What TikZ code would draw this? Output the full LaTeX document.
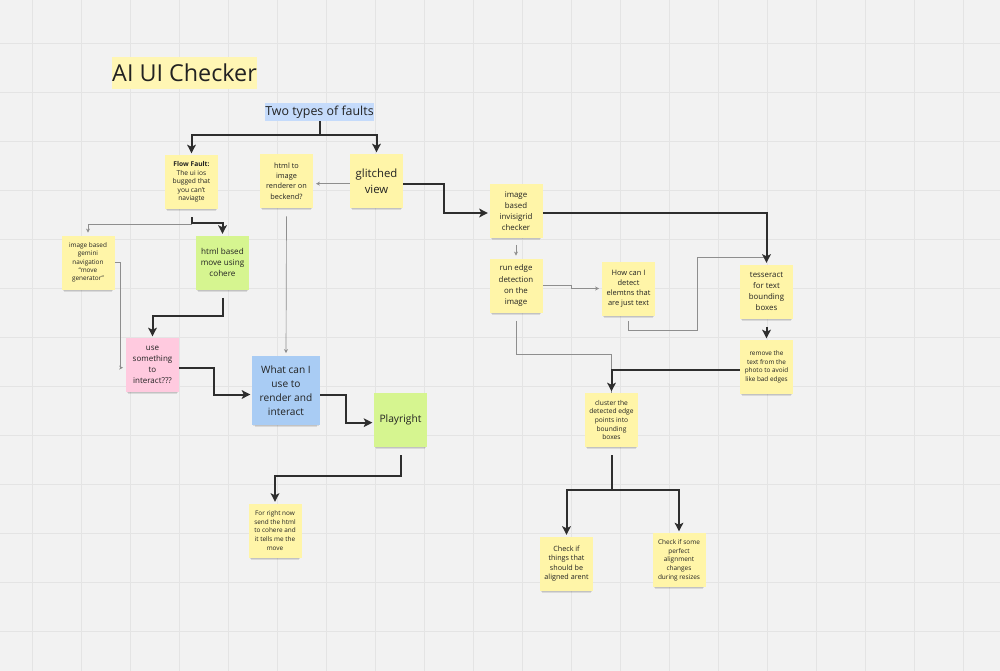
\documentclass[tikz,border=0pt]{standalone}
\usepackage{fontspec}
\setmainfont{Open Sans}
\usetikzlibrary{arrows.meta,shadows,calc}
\definecolor{bgc}{HTML}{F2F2F2}
\definecolor{gridc}{HTML}{E4E4E4}
\definecolor{stY}{HTML}{FFF5A8}
\definecolor{stG}{HTML}{D6F590}
\definecolor{stP}{HTML}{FFCADF}
\definecolor{stB}{HTML}{A9CCF4}
\definecolor{hlY}{HTML}{FFF6B4}
\definecolor{hlB}{HTML}{C5DBFB}
\definecolor{txt}{HTML}{222222}
\definecolor{lnk}{HTML}{2E2E2E}
\definecolor{thinc}{HTML}{8E8E8E}
\newcommand\myfs[2]{\fontsize{#1}{#2}\selectfont}
\tikzset{
  gridline/.style={draw=gridc, line width=0.6pt},
  shad/.style={
    general shadow={fill=black, opacity=0.10, shadow yshift=-2pt, shadow scale=0.96},
    general shadow={fill=black, opacity=0.10, shadow yshift=-3.5pt, shadow scale=0.92}},
  sticky/.style={shad, fill=stY, draw=none, minimum width=39.75pt, minimum height=40.5pt,
    inner sep=1pt, align=center, text=txt},
  hl/.style={inner sep=0pt, text=txt},
  thk/.style={draw=lnk, line width=1.5pt, -{Stealth[length=6.5pt,width=6.5pt,inset=1.5pt]}, shorten >=1pt},
  thn/.style={draw=thinc, line width=0.5pt, -{Stealth[length=3pt,width=3pt]}, shorten >=2pt},
  thnplain/.style={draw=thinc, line width=0.5pt}
}
\begin{document}
\begin{tikzpicture}[x=0.75pt,y=-0.75pt]
\fill[bgc] (0,0) rectangle (1000,671);
\useasboundingbox (0,0) rectangle (1000,671);
\foreach \i in {0,...,19} \draw[gridline] (32+49*\i,0) -- (32+49*\i,671);
\foreach \j in {0,...,12} \draw[gridline] (0,43+49*\j) -- (1000,43+49*\j);

% titles
\node[hl, fill=hlY, minimum width=105.75pt, minimum height=24pt, font=\myfs{17.5}{20}] (title) at (184.5,73) {AI UI Checker};
\node[hl, fill=hlB, minimum width=81.75pt, minimum height=13.5pt, font=\myfs{9.3}{11}] (two) at (319.5,112) {Two types of faults};

% stickies
\node[sticky, font=\myfs{5}{6.4}] (flow) at (191.5,182) {\textbf{Flow Fault:}\\The ui ios\\bugged that\\you can't\\naviagte};
\node[sticky, font=\myfs{5.5}{7.7}] (html2img) at (286.5,181) {html to\\image\\renderer on\\beckend?};
\node[sticky, font=\myfs{8.5}{12}] (glitch) at (376.5,181) {glitched\\view};
\node[sticky, font=\myfs{5.9}{8.3}] (inv) at (516,211) {image\\based\\invisigrid\\checker};
\node[sticky, font=\myfs{5.9}{8.3}] (run) at (516,285.5) {run edge\\detection\\on the\\image};
\node[sticky, font=\myfs{5.6}{7.6}] (how) at (628.5,288.5) {How can I\\detect\\elemtns that\\are just text};
\node[sticky, font=\myfs{5.9}{8.3}] (tess) at (766.5,291.5) {tesseract\\for text\\bounding\\boxes};
\node[sticky, font=\myfs{4.8}{6.5}] (rem) at (766.5,367) {remove the\\text from the\\photo to avoid\\like bad edges};
\node[sticky, font=\myfs{5}{6.5}] (clu) at (611.5,420) {cluster the\\detected edge\\points into\\bounding\\boxes};
\node[sticky, font=\myfs{5.4}{7.1}] (chkT) at (566.5,563.5) {Check if\\things that\\should be\\aligned arent};
\node[sticky, font=\myfs{4.85}{6.5}] (chkS) at (679,560) {Check if some\\perfect\\alignment\\changes\\during resizes};
\node[sticky, font=\myfs{4.8}{6.3}] (gem) at (88,262.5) {image based\\gemini\\navigation\\``move\\generator''};
\node[sticky, fill=stG, font=\myfs{6.1}{8.5}] (hmove) at (222.5,262.5) {html based\\move using\\cohere};
\node[sticky, fill=stP, font=\myfs{6}{8.3}] (use) at (152.5,365) {use\\something\\to\\interact???};
\node[sticky, fill=stB, minimum width=51pt, minimum height=51.75pt, font=\myfs{7.6}{10.5}] (what) at (286,390.5) {What can I\\use to\\render and\\interact};
\node[sticky, fill=stG, font=\myfs{7.7}{10}] (play) at (400.5,420) {Playright};
\node[sticky, font=\myfs{4.8}{6.5}] (fr) at (275,530.5) {For right now\\send the html\\to cohere and\\it tells me the\\move};

% thin connectors
\draw[thn] ([yshift=-2pt]glitch.west) -- ([yshift=-2pt]html2img.east);
\draw[thn] ([yshift=-5pt]inv.south) -- (run.north);
\draw[thn] (run.east) -- ++(29,0) |- (how.west);
\coordinate (cA) at (697,257);
\draw[thnplain] ([yshift=-4pt]how.south) -- ++(0,9) -| (cA) -- (cA -| tess.north);
\draw[thnplain] ([yshift=-6pt]run.south) -- ++(0,34) -| (clu.north);
\coordinate (fb) at ([yshift=-6pt]flow.south);
\draw[thn] (fb) -- ++(0,7) -| (gem.north);
\draw[thn] (gem.east) -- ++(6,0) |- ([yshift=-2pt]use.west);
\draw[thn] ([yshift=-6pt]html2img.south) -- (what.north);

% thick connectors
\draw[thk] (two.south) -- ++(0,14) -| (flow.north);
\draw[thk] (two.south) -- ++(0,14) -| (glitch.north);
\draw[thk] ([yshift=-2pt]glitch.east) -- ++(41,0) |- ([yshift=-1.5pt]inv.west);
\draw[thk] ([yshift=-1.5pt]inv.east) -| (tess.north);
\draw[thk] ([yshift=-6pt]tess.south) -- (rem.north);
\draw[thk] ([yshift=-2pt]rem.west) -| (clu.north);
\coordinate (cb) at ([yshift=-6pt]clu.south);
\draw[thk] (cb) -- ++(0,35) -| (chkT.north);
\draw[thk] (cb) -- ++(0,35) -| (chkS.north);
\draw[thk] (fb) -- ++(0,6) -| (hmove.north);
\draw[thk] ([yshift=-6pt]hmove.south) -- ++(0,18) -| (use.north);
\draw[thk] ([yshift=-2pt]use.east) -- ++(35,0) |- ([yshift=-3pt]what.west);
\draw[thk] ([yshift=-3pt]what.east) -- ++(26,0) |- ([yshift=-2pt]play.west);
\draw[thk] ([yshift=-6pt]play.south) -- ++(0,21) -| (fr.north);
\end{tikzpicture}
\end{document}
